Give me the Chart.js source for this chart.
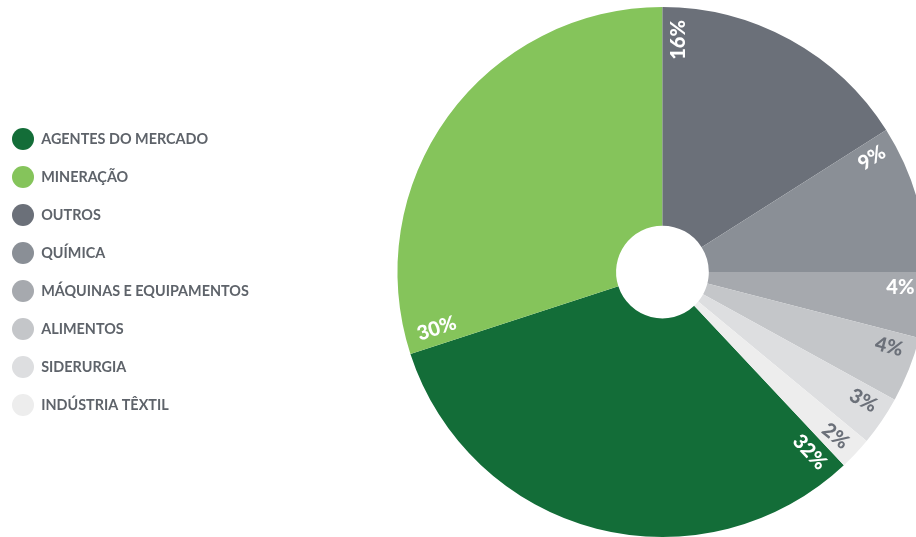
<!DOCTYPE html>
<html>
<head>
<meta charset="utf-8">
<script src="https://cdn.jsdelivr.net/npm/chart.js@4"></script>
<style>
    body{ margin:0; overflow:hidden; background:#fff; }
    canvas{ display:block; }
</style>
</head>
<body>
<!-- mais largo que a janela: o pastel fica cortado na borda direita -->
<canvas id="grSetores" width="1066" height="537"></canvas>
<script>
const setores = ['AGENTES DO MERCADO', 'MINERAÇÃO', 'OUTROS', 'QUÍMICA', 'MÁQUINAS E EQUIPAMENTOS', 'ALIMENTOS', 'SIDERURGIA', 'INDÚSTRIA TÊXTIL'];
const porcentagens = [32, 30, 16, 9, 4, 4, 3, 2];
const cores = ['#136d38', '#85c45b', '#6b7079', '#8a8f96', '#a6a9ae', '#c4c6c9', '#dddee0', '#ededed'];
const coresTexto = ['#ffffff', '#ffffff', '#ffffff', '#ffffff', '#ffffff', '#6b7079', '#6b7079', '#6b7079'];

const total = porcentagens.reduce((a, b) => a + b, 0);
// Agentes e Mineração terminam no topo (12h)
const rotacao = 360 - (porcentagens[0] + porcentagens[1]) / total * 360;

/* etiquetas de % ao longo do raio, no inicio de cada fatia */
const etiquetaPlugin = {
    id: 'etiquetaPlugin',
    afterDatasetsDraw(chart){
        const ctx = chart.ctx;
        const meta = chart.getDatasetMeta(0);
        ctx.save();
        ctx.font = '900 20px Lato, sans-serif';
        ctx.textBaseline = 'middle';
        meta.data.forEach((arc, i) => {
            const a = arc.startAngle;
            const r = arc.outerRadius - 13;
            ctx.save();
            ctx.translate(arc.x, arc.y);
            ctx.fillStyle = coresTexto[i];
            if(Math.cos(a) < -0.01){
                ctx.rotate(a + Math.PI);
                ctx.textAlign = 'left';
                ctx.fillText(porcentagens[i] + '%', -r, -16);
            }else{
                ctx.rotate(a);
                ctx.textAlign = 'right';
                ctx.fillText(porcentagens[i] + '%', r, 16);
            }
            ctx.restore();
        });
        ctx.restore();
    }
};

new Chart(document.getElementById('grSetores'), {
    type: 'doughnut',
    data: {
        labels: setores,
        datasets: [{
            data: porcentagens,
            backgroundColor: cores,
            borderWidth: 0
        }]
    },
    options: {
        responsive: false,
        animation: false,
        cutout: '17.5%',
        rotation: rotacao,
        layout: {
            padding: { left: -4, top: 7, bottom: 0, right: 0 }
        },
        plugins: {
            tooltip: { enabled: false },
            legend: {
                position: 'left',
                align: 'center',
                labels: {
                    boxWidth: 22,
                    boxHeight: 22,
                    useBorderRadius: true,
                    borderRadius: 11,
                    padding: 16,
                    color: '#5e636a',
                    font: { family: 'Lato, sans-serif', size: 14.4, weight: 'bold' }
                }
            }
        }
    },
    plugins: [etiquetaPlugin]
});
</script>
</body>
</html>
